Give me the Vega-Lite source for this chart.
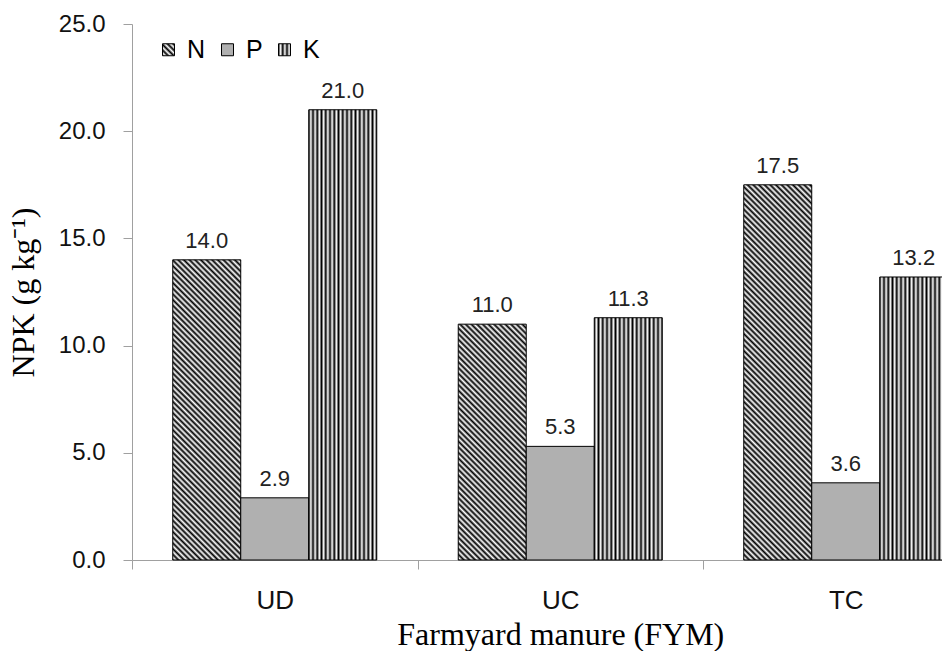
{
  "$schema": "https://vega.github.io/schema/vega-lite/v6.json",
  "autosize": {"type": "none"},
  "width": 810,
  "height": 536,
  "padding": {"left": 132, "top": 24, "right": 0, "bottom": 91},
  "background": "white",
  "config": {"view": {"stroke": null}, "font": "Liberation Sans"},
  "params": [
    {"name": "stK", "value": [
      {"offset":0,"color":"#000"},{"offset":0.03125,"color":"#fff"},{"offset":0.0625,"color":"#000"},{"offset":0.09375,"color":"#fff"},
      {"offset":0.125,"color":"#000"},{"offset":0.15625,"color":"#fff"},{"offset":0.1875,"color":"#000"},{"offset":0.21875,"color":"#fff"},
      {"offset":0.25,"color":"#000"},{"offset":0.28125,"color":"#fff"},{"offset":0.3125,"color":"#000"},{"offset":0.34375,"color":"#fff"},
      {"offset":0.375,"color":"#000"},{"offset":0.40625,"color":"#fff"},{"offset":0.4375,"color":"#000"},{"offset":0.46875,"color":"#fff"},
      {"offset":0.5,"color":"#000"},{"offset":0.53125,"color":"#fff"},{"offset":0.5625,"color":"#000"},{"offset":0.59375,"color":"#fff"},
      {"offset":0.625,"color":"#000"},{"offset":0.65625,"color":"#fff"},{"offset":0.6875,"color":"#000"},{"offset":0.71875,"color":"#fff"},
      {"offset":0.75,"color":"#000"},{"offset":0.78125,"color":"#fff"},{"offset":0.8125,"color":"#000"},{"offset":0.84375,"color":"#fff"},
      {"offset":0.875,"color":"#000"},{"offset":0.90625,"color":"#fff"},{"offset":0.9375,"color":"#000"},{"offset":0.96875,"color":"#fff"},
      {"offset":1,"color":"#000"}
    ]},
    {"name": "stN", "value": [
      {"offset":0,"color":"#000"},{"offset":0.00625,"color":"#fff"},{"offset":0.0125,"color":"#000"},{"offset":0.01875,"color":"#fff"},{"offset":0.025,"color":"#000"},{"offset":0.03125,"color":"#fff"},{"offset":0.0375,"color":"#000"},{"offset":0.04375,"color":"#fff"},{"offset":0.05,"color":"#000"},{"offset":0.05625,"color":"#fff"},{"offset":0.0625,"color":"#000"},{"offset":0.06875,"color":"#fff"},{"offset":0.075,"color":"#000"},{"offset":0.08125,"color":"#fff"},{"offset":0.0875,"color":"#000"},{"offset":0.09375,"color":"#fff"},
      {"offset":0.1,"color":"#000"},{"offset":0.10625,"color":"#fff"},{"offset":0.1125,"color":"#000"},{"offset":0.11875,"color":"#fff"},{"offset":0.125,"color":"#000"},{"offset":0.13125,"color":"#fff"},{"offset":0.1375,"color":"#000"},{"offset":0.14375,"color":"#fff"},{"offset":0.15,"color":"#000"},{"offset":0.15625,"color":"#fff"},{"offset":0.1625,"color":"#000"},{"offset":0.16875,"color":"#fff"},{"offset":0.175,"color":"#000"},{"offset":0.18125,"color":"#fff"},{"offset":0.1875,"color":"#000"},{"offset":0.19375,"color":"#fff"},
      {"offset":0.2,"color":"#000"},{"offset":0.20625,"color":"#fff"},{"offset":0.2125,"color":"#000"},{"offset":0.21875,"color":"#fff"},{"offset":0.225,"color":"#000"},{"offset":0.23125,"color":"#fff"},{"offset":0.2375,"color":"#000"},{"offset":0.24375,"color":"#fff"},{"offset":0.25,"color":"#000"},{"offset":0.25625,"color":"#fff"},{"offset":0.2625,"color":"#000"},{"offset":0.26875,"color":"#fff"},{"offset":0.275,"color":"#000"},{"offset":0.28125,"color":"#fff"},{"offset":0.2875,"color":"#000"},{"offset":0.29375,"color":"#fff"},
      {"offset":0.3,"color":"#000"},{"offset":0.30625,"color":"#fff"},{"offset":0.3125,"color":"#000"},{"offset":0.31875,"color":"#fff"},{"offset":0.325,"color":"#000"},{"offset":0.33125,"color":"#fff"},{"offset":0.3375,"color":"#000"},{"offset":0.34375,"color":"#fff"},{"offset":0.35,"color":"#000"},{"offset":0.35625,"color":"#fff"},{"offset":0.3625,"color":"#000"},{"offset":0.36875,"color":"#fff"},{"offset":0.375,"color":"#000"},{"offset":0.38125,"color":"#fff"},{"offset":0.3875,"color":"#000"},{"offset":0.39375,"color":"#fff"},
      {"offset":0.4,"color":"#000"},{"offset":0.40625,"color":"#fff"},{"offset":0.4125,"color":"#000"},{"offset":0.41875,"color":"#fff"},{"offset":0.425,"color":"#000"},{"offset":0.43125,"color":"#fff"},{"offset":0.4375,"color":"#000"},{"offset":0.44375,"color":"#fff"},{"offset":0.45,"color":"#000"},{"offset":0.45625,"color":"#fff"},{"offset":0.4625,"color":"#000"},{"offset":0.46875,"color":"#fff"},{"offset":0.475,"color":"#000"},{"offset":0.48125,"color":"#fff"},{"offset":0.4875,"color":"#000"},{"offset":0.49375,"color":"#fff"},
      {"offset":0.5,"color":"#000"},{"offset":0.50625,"color":"#fff"},{"offset":0.5125,"color":"#000"},{"offset":0.51875,"color":"#fff"},{"offset":0.525,"color":"#000"},{"offset":0.53125,"color":"#fff"},{"offset":0.5375,"color":"#000"},{"offset":0.54375,"color":"#fff"},{"offset":0.55,"color":"#000"},{"offset":0.55625,"color":"#fff"},{"offset":0.5625,"color":"#000"},{"offset":0.56875,"color":"#fff"},{"offset":0.575,"color":"#000"},{"offset":0.58125,"color":"#fff"},{"offset":0.5875,"color":"#000"},{"offset":0.59375,"color":"#fff"},
      {"offset":0.6,"color":"#000"},{"offset":0.60625,"color":"#fff"},{"offset":0.6125,"color":"#000"},{"offset":0.61875,"color":"#fff"},{"offset":0.625,"color":"#000"},{"offset":0.63125,"color":"#fff"},{"offset":0.6375,"color":"#000"},{"offset":0.64375,"color":"#fff"},{"offset":0.65,"color":"#000"},{"offset":0.65625,"color":"#fff"},{"offset":0.6625,"color":"#000"},{"offset":0.66875,"color":"#fff"},{"offset":0.675,"color":"#000"},{"offset":0.68125,"color":"#fff"},{"offset":0.6875,"color":"#000"},{"offset":0.69375,"color":"#fff"},
      {"offset":0.7,"color":"#000"},{"offset":0.70625,"color":"#fff"},{"offset":0.7125,"color":"#000"},{"offset":0.71875,"color":"#fff"},{"offset":0.725,"color":"#000"},{"offset":0.73125,"color":"#fff"},{"offset":0.7375,"color":"#000"},{"offset":0.74375,"color":"#fff"},{"offset":0.75,"color":"#000"},{"offset":0.75625,"color":"#fff"},{"offset":0.7625,"color":"#000"},{"offset":0.76875,"color":"#fff"},{"offset":0.775,"color":"#000"},{"offset":0.78125,"color":"#fff"},{"offset":0.7875,"color":"#000"},{"offset":0.79375,"color":"#fff"},
      {"offset":0.8,"color":"#000"},{"offset":0.80625,"color":"#fff"},{"offset":0.8125,"color":"#000"},{"offset":0.81875,"color":"#fff"},{"offset":0.825,"color":"#000"},{"offset":0.83125,"color":"#fff"},{"offset":0.8375,"color":"#000"},{"offset":0.84375,"color":"#fff"},{"offset":0.85,"color":"#000"},{"offset":0.85625,"color":"#fff"},{"offset":0.8625,"color":"#000"},{"offset":0.86875,"color":"#fff"},{"offset":0.875,"color":"#000"},{"offset":0.88125,"color":"#fff"},{"offset":0.8875,"color":"#000"},{"offset":0.89375,"color":"#fff"},
      {"offset":0.9,"color":"#000"},{"offset":0.90625,"color":"#fff"},{"offset":0.9125,"color":"#000"},{"offset":0.91875,"color":"#fff"},{"offset":0.925,"color":"#000"},{"offset":0.93125,"color":"#fff"},{"offset":0.9375,"color":"#000"},{"offset":0.94375,"color":"#fff"},{"offset":0.95,"color":"#000"},{"offset":0.95625,"color":"#fff"},{"offset":0.9625,"color":"#000"},{"offset":0.96875,"color":"#fff"},{"offset":0.975,"color":"#000"},{"offset":0.98125,"color":"#fff"},{"offset":0.9875,"color":"#000"},{"offset":0.99375,"color":"#fff"},
      {"offset":1,"color":"#000"}
    ]}
  ],
  "data": {"values": [
    {"fym": "UD", "nutrient": "N", "key": "N-UD", "value": 14.0},
    {"fym": "UD", "nutrient": "P", "key": "P-UD", "value": 2.9},
    {"fym": "UD", "nutrient": "K", "key": "K-UD", "value": 21.0},
    {"fym": "UC", "nutrient": "N", "key": "N-UC", "value": 11.0},
    {"fym": "UC", "nutrient": "P", "key": "P-UC", "value": 5.3},
    {"fym": "UC", "nutrient": "K", "key": "K-UC", "value": 11.3},
    {"fym": "TC", "nutrient": "N", "key": "N-TC", "value": 17.5},
    {"fym": "TC", "nutrient": "P", "key": "P-TC", "value": 3.6},
    {"fym": "TC", "nutrient": "K", "key": "K-TC", "value": 13.2}
  ]},
  "encoding": {
    "x": {
      "field": "fym", "type": "nominal", "sort": ["UD", "UC", "TC"],
      "scale": {"range": [0, 856.5], "paddingInner": 0, "paddingOuter": 0},
      "axis": {
        "title": "Farmyard manure (FYM)", "labelAngle": 0, "tickBand": "extent",
        "tickSize": 9, "tickColor": "#a0a0a0", "domainColor": "#a0a0a0",
        "labelFontSize": 26, "labelColor": "#111", "labelPadding": 18,
        "titleFont": "Liberation Serif", "titleFontSize": 32, "titleFontWeight": "normal",
        "titleColor": "#000", "titleY": 84, "titleBaseline": "alphabetic"
      }
    },
    "xOffset": {"field": "nutrient", "type": "nominal", "sort": ["N", "P", "K"], "scale": {"paddingInner": 0, "paddingOuter": 0.599}},
    "y": {
      "field": "value", "type": "quantitative",
      "scale": {"domain": [0, 25], "nice": false},
      "axis": {
        "title": "NPK (g kg⁻¹)", "values": [0, 5, 10, 15, 20, 25], "format": ".1f", "grid": false,
        "tickSize": 9, "tickColor": "#a0a0a0", "domainColor": "#a0a0a0",
        "labelFontSize": 24, "labelColor": "#111", "labelPadding": 18,
        "titleFont": "Liberation Serif", "titleFontSize": 32, "titleFontWeight": "normal",
        "titleColor": "#000", "titleX": -99, "titleY": 268, "titleBaseline": "alphabetic", "titleAlign": "center"
      }
    }
  },
  "layer": [
    {
      "mark": {"type": "bar", "stroke": "black", "strokeWidth": 1},
      "encoding": {
        "color": {
          "field": "key", "type": "nominal",
          "scale": {
            "domain": ["N-UD", "P-UD", "K-UD", "N-UC", "P-UC", "K-UC", "N-TC", "P-TC", "K-TC", "N-leg", "K-leg"],
            "range": [
              {"expr": "{gradient:'linear',x1:0,y1:1,x2:0.325,y2:-0.4346,stops:stN}"},
              "#b0b0b0",
              {"expr": "{gradient:'linear',x1:0,y1:0,x2:1,y2:0,stops:stK}"},
              {"expr": "{gradient:'linear',x1:0,y1:1,x2:0.5108,y2:-0.7715,stops:stN}"},
              "#b0b0b0",
              {"expr": "{gradient:'linear',x1:0,y1:0,x2:1,y2:0,stops:stK}"},
              {"expr": "{gradient:'linear',x1:0,y1:1,x2:0.2116,y2:-0.1678,stops:stN}"},
              "#b0b0b0",
              {"expr": "{gradient:'linear',x1:0,y1:0,x2:1,y2:0,stops:stK}"},
              {"expr": "{gradient:'linear',x1:0,y1:1,x2:18.86,y2:-17.86,stops:stN}"},
              {"expr": "{gradient:'linear',x1:0,y1:0,x2:5.667,y2:0,stops:stK}"}
            ]
          },
          "legend": {
            "values": ["N-leg", "P-UD", "K-leg"],
            "labelExpr": "substring(datum.label, 0, 1)",
            "orient": "none", "legendX": 24, "legendY": 13,
            "direction": "horizontal", "title": null,
            "symbolType": "square", "symbolSize": 144,
            "symbolStrokeColor": "black", "symbolStrokeWidth": 1,
            "labelFontSize": 25, "labelColor": "#000", "labelOffset": 6,
            "columnPadding": 9, "padding": 0
          }
        }
      }
    },
    {
      "mark": {"type": "text", "baseline": "bottom", "dy": -7, "fontSize": 22, "color": "#222"},
      "encoding": {"text": {"field": "value", "type": "quantitative", "format": ".1f"}}
    }
  ]
}
